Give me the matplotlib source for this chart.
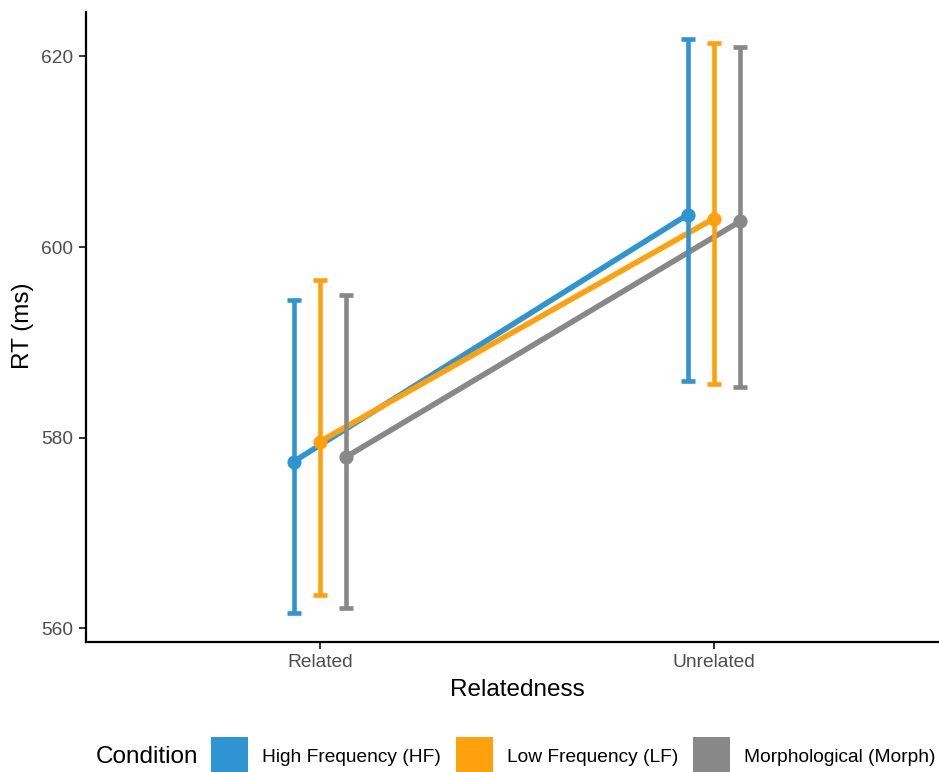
import matplotlib.pyplot as plt
from matplotlib.patches import Rectangle
import numpy as np

plt.rcParams['font.family'] = ['Liberation Sans', 'DejaVu Sans']

# Mean RT per condition and relatedness, with lower/upper error bar limits
relatedness = ['Related', 'Unrelated']
conditions = ['High Frequency (HF)', 'Low Frequency (LF)', 'Morphological (Morph)']
colors = ['#2E95D2', '#FFA10C', '#888888']

rt_hf = [577.5, 603.4]
rt_lf = [579.6, 603.0]
rt_morph = [578.0, 602.7]

low_hf = [561.6, 586.0]
low_lf = [563.5, 585.6]
low_morph = [562.1, 585.3]

high_hf = [594.4, 621.8]
high_lf = [596.6, 621.4]
high_morph = [595.0, 621.0]

means = [rt_hf, rt_lf, rt_morph]
lows = [low_hf, low_lf, low_morph]
highs = [high_hf, high_lf, high_morph]

W, H = 939, 772
fig = plt.figure(figsize=(W / 100, H / 100), dpi=100)
ax = fig.add_axes([86 / W, 1 - 641.7 / H, (938 - 86) / W, (641.7 - 11.7) / H])

x = np.arange(1, len(relatedness) + 1)
dodge = 0.2 / len(conditions)

for i, (m, lo, hi, c) in enumerate(zip(means, lows, highs, colors)):
    xs = x + (i - 1) * dodge
    m = np.array(m)
    yerr = np.vstack([m - np.array(lo), np.array(hi) - m])
    ax.plot(xs, m, color=c, lw=4.0, zorder=2, solid_capstyle='butt')
    ax.errorbar(xs, m, yerr=yerr, fmt='none', ecolor=c, elinewidth=3.3,
                capsize=4.7, capthick=3.3, zorder=3)
    ax.plot(xs, m, 'o', color=c, ms=9.2, zorder=4)

ax.set_xlim(0.406, 2.569)
ax.set_ylim(558.6, 624.7)
ax.set_yticks([560, 580, 600, 620])
ax.set_xticks(x)
ax.set_xticklabels(relatedness)

for side in ['top', 'right']:
    ax.spines[side].set_visible(False)
for side in ['left', 'bottom']:
    ax.spines[side].set_linewidth(1.6)
    ax.spines[side].set_color('black')
ax.tick_params(axis='both', length=5, width=1.4, color='#333333',
               labelsize=13.8, labelcolor='#4D4D4D')
ax.tick_params(axis='y', pad=4.5)
ax.tick_params(axis='x', pad=4)

fig.text(517 / W, 1 - 690 / H, 'Relatedness', ha='center', va='center', fontsize=17.5)
fig.text(23 / W, 1 - 326 / H, 'RT (ms)', ha='center', va='center', rotation=90, fontsize=17.5)

# legend along the bottom, title on the left
fig.text(96 / W, 1 - 757 / H, 'Condition', ha='left', va='center', fontsize=17.5)
key_x = [211, 456, 693]
for kx, lab, c in zip(key_x, conditions, colors):
    fig.patches.append(Rectangle((kx / W, 1 - 776 / H), 37 / W, 39 / H,
                                 transform=fig.transFigure, facecolor=c,
                                 edgecolor=c, lw=0))
    fig.text((kx + 51) / W, 1 - 757 / H, lab, ha='left', va='center', fontsize=13.8)

fig.savefig('out.png', dpi=100)
